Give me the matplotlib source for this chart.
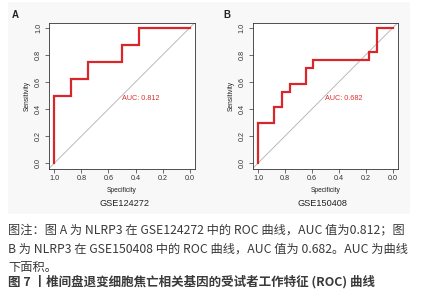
import matplotlib
matplotlib.use("Agg")
import matplotlib.pyplot as plt
from matplotlib.patches import Rectangle

# ROC data (specificity, sensitivity)
spec_a = [1.0, 1.0, 0.875, 0.875, 0.75, 0.75, 0.5, 0.5, 0.375, 0.375, 0.0]
sens_a = [0.0, 0.5, 0.5, 0.625, 0.625, 0.75, 0.75, 0.875, 0.875, 1.0, 1.0]

spec_b = [1.0, 1.0, 15/17, 15/17, 14/17, 14/17, 13/17, 13/17, 11/17, 11/17,
          10/17, 10/17, 3/17, 3/17, 2/17, 2/17, 0.0]
sens_b = [0.0, 5/17, 5/17, 7/17, 7/17, 9/17, 9/17, 10/17, 10/17, 12/17,
          12/17, 13/17, 13/17, 14/17, 14/17, 1.0, 1.0]

auc_a = "AUC: 0.812"
auc_b = "AUC: 0.682"
titles = ["GSE124272", "GSE150408"]
letters = ["A", "B"]
ticks = [0.0, 0.2, 0.4, 0.6, 0.8, 1.0]
tick_labels = ["0.0", "0.2", "0.4", "0.6", "0.8", "1.0"]

caption_lines = [
    "图注：图 A 为 NLRP3 在 GSE124272 中的 ROC 曲线，AUC 值为0.812；图",
    "B 为 NLRP3 在 GSE150408 中的 ROC 曲线，AUC 值为 0.682。AUC 为曲线",
    "下面积。",
]
caption_title = "图 7 丨椎间盘退变细胞焦亡相关基因的受试者工作特征 (ROC) 曲线"

W, H = 425, 300
fig = plt.figure(figsize=(W / 100, H / 100), dpi=100)
fig.patch.set_facecolor("white")

# faint panel background
bg = Rectangle((8 / W, 1 - 214 / H), 402 / W, 212 / H,
               transform=fig.transFigure, facecolor="#f8f8f8",
               edgecolor="none", zorder=-5)
fig.patches.append(bg)

sans = ["Liberation Sans", "DejaVu Sans"]
cjk = ["Noto Sans CJK SC", "DejaVu Sans"]

panels = [
    (49, 195, spec_a, sens_a, auc_a),
    (252.7, 398, spec_b, sens_b, auc_b),
]
for i, (lpx, rpx, sx, sy, auc) in enumerate(panels):
    ax = fig.add_axes([lpx / W, 1 - 168.5 / H, (rpx - lpx) / W, (168.5 - 22.5) / H])
    ax.set_zorder(2)
    ax.set_facecolor("white")
    ax.set_xlim(1.04, -0.04)
    ax.set_ylim(-0.04, 1.04)
    ax.plot([1.04, -0.04], [-0.04, 1.04], color="#b0b0b0", lw=0.6, zorder=1)
    ax.plot(sx, sy, color="#d9262b", lw=1.6, zorder=2, solid_joinstyle="miter")
    ax.text(0.5, 0.5, auc, color="#e03030", fontsize=5.2, family=sans,
            ha="left", va="top")
    ax.set_xticks(ticks)
    ax.set_xticklabels(tick_labels, fontsize=5.2, family=sans, color="#222222")
    ax.set_yticks(ticks)
    ax.set_yticklabels(tick_labels, fontsize=5.2, family=sans, color="#222222",
                       rotation=90, va="center")
    ax.tick_params(length=3, width=0.5, pad=2, colors="#333333")
    for s in ax.spines.values():
        s.set_linewidth(0.6)
        s.set_color("#333333")
    ax.set_xlabel("Specificity", fontsize=4.8, family=sans, labelpad=3, color="#222222")
    ax.set_ylabel("Sensitivity", fontsize=4.8, family=sans, labelpad=3, color="#222222")
    cx = (lpx + rpx) / 2 + (2 if i == 0 else -3)
    fig.text(cx / W, 1 - 203 / H, titles[i], fontsize=6.6, family=sans,
             ha="center", va="center", color="#222222")
    fig.text((15 if i == 0 else 227) / W, 1 - 15 / H, letters[i], fontsize=7,
             fontweight="bold", family=sans, ha="center", va="center",
             color="#222222")

ys = [230, 249, 267]
for y, line in zip(ys, caption_lines):
    fig.text(8 / W, 1 - y / H, line, fontsize=8.8, family=cjk, ha="left",
             va="center", color="#3a3a3a")
fig.text(8 / W, 1 - 282 / H, caption_title, fontsize=9.0, family=cjk,
         fontweight="bold", ha="left", va="center", color="#3a3a3a")

fig.savefig("out.png", dpi=100, facecolor="white")
